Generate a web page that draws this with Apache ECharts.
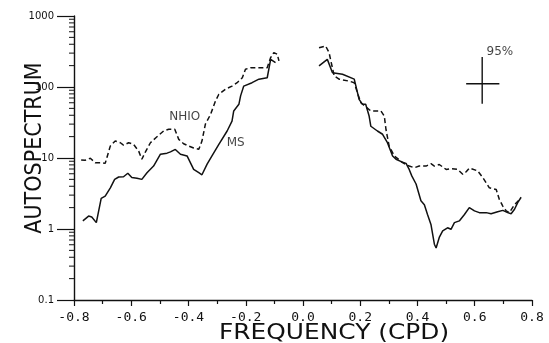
<!DOCTYPE html>
<html>
<head>
<meta charset="utf-8">
<script src="https://cdn.jsdelivr.net/npm/echarts@6/dist/echarts.min.js"></script>
<style>
  html, body { margin: 0; padding: 0; background: #fff; }
  #chart { width: 549px; height: 343px; }
</style>
</head>
<body>
<div id="chart"></div>
<script>
// Autospectrum of the MS record (solid) and the NHIO record (dashed), log scale.
// null marks the gap around zero frequency.
const msFreq = [-0.769, -0.749, -0.738, -0.722, -0.705, -0.691, -0.673, -0.658, -0.644, -0.627,
  -0.612, -0.598, -0.580, -0.563, -0.545, -0.522, -0.498, -0.475, -0.463, -0.446,
  -0.428, -0.405, -0.382, -0.364, -0.353, -0.335, -0.318, -0.294, -0.265, -0.248,
  -0.242, -0.224, -0.218, -0.207, -0.178, -0.154, -0.125, -0.113, -0.096,
  0,
  0.056, 0.085, 0.103, 0.138, 0.179, 0.196, 0.208, 0.219, 0.231, 0.237,
  0.260, 0.278, 0.295, 0.313, 0.325, 0.345, 0.360, 0.371, 0.380, 0.395,
  0.412, 0.424, 0.435, 0.447, 0.453, 0.459, 0.465, 0.476, 0.488, 0.505,
  0.517, 0.529, 0.546, 0.564, 0.581, 0.599, 0.616, 0.640, 0.657, 0.680,
  0.698, 0.715, 0.727, 0.739, 0.750, 0.762];
const msVal = [1.3, 1.52, 1.48, 1.23, 2.7, 2.9, 3.8, 5.0, 5.4, 5.45,
  6.1, 5.3, 5.2, 5.0, 6.2, 7.7, 11.3, 11.7, 12.2, 13.2,
  11.3, 10.7, 6.9, 6.2, 5.8, 8.2, 10.7, 15.6, 24, 33,
  46, 57, 75, 103, 115, 129, 135, 245, 220,
  null,
  198, 245, 159, 151, 129, 67, 57, 57, 39, 28,
  24, 21.6, 16.4, 10.7, 9.6, 8.8, 8.4, 6.9, 5.6, 4.3,
  2.5, 2.2, 1.6, 1.16, 0.84, 0.61, 0.54, 0.76, 0.94, 1.04,
  0.99, 1.23, 1.3, 1.6, 2.0, 1.8, 1.7, 1.7, 1.64, 1.75,
  1.83, 1.7, 1.64, 1.9, 2.35, 2.8];

const nhioFreq = [-0.775, -0.761, -0.743, -0.726, -0.703, -0.691, -0.673, -0.656, -0.638, -0.627,
  -0.609, -0.592, -0.574, -0.563, -0.549, -0.533, -0.514, -0.487, -0.469, -0.448,
  -0.434, -0.417, -0.399, -0.382, -0.364, -0.353, -0.341, -0.323, -0.306, -0.294,
  -0.271, -0.248, -0.230, -0.212, -0.201, -0.183, -0.148, -0.125, -0.113, -0.102,
  -0.090, -0.084,
  0,
  0.056, 0.079, 0.091, 0.109, 0.126, 0.161, 0.179, 0.190, 0.202, 0.237,
  0.272, 0.284, 0.290, 0.301, 0.319, 0.348, 0.371, 0.389, 0.406, 0.430,
  0.447, 0.459, 0.476, 0.500, 0.517, 0.540, 0.558, 0.570, 0.581, 0.610,
  0.628, 0.651, 0.675, 0.686, 0.698, 0.710, 0.721, 0.739, 0.756];
const nhioVal = [9.4, 9.3, 9.9, 8.6, 8.6, 8.4, 14.8, 17.4, 16.4, 15.2,
  16.4, 15.6, 12.5, 9.6, 12.5, 16.4, 19.3, 24, 25.4, 25.4,
  18.3, 15.9, 14.7, 13.8, 13.3, 17.3, 30, 41, 63, 79,
  93, 103, 115, 135, 178, 187, 187, 187, 260, 305,
  290, 233,
  null,
  356, 378, 305, 143, 129, 121, 115, 83, 60, 46,
  46, 39, 25, 14.7, 10.7, 8.6, 7.7, 7.3, 7.7, 7.7,
  8.3, 7.7, 8.1, 6.9, 7.1, 6.9, 5.9, 6.4, 7.2, 6.6,
  5.3, 3.8, 3.6, 2.6, 2.1, 1.8, 1.7, 2.2, 2.6];

// 95% confidence cross
const ciFreq = 0.626;
const ciVal = 111;
const ciValRange = [58, 265];
const ciFreqRange = [0.570, 0.686];

// In-plot annotations
const noteText = ['NHIO', 'MS', '95%'];
const noteFreq = [-0.413, -0.235, 0.688];
const noteVal = [37.8, 16.3, 310];

// Axis tick labels
const xTickLabels = ['-0.8', '-0.6', '-0.4', '-0.2', '0.0', '0.2', '0.4', '0.6', '0.8'];
const yTickLabels = ['0.1', '1', '10', '100', '1000'];
const logDecades = [0.1, 1, 10, 100];
const logMinorSteps = [2, 3, 4, 5, 6, 7, 8, 9];

const toPairs = (xs, ys) => xs.map((x, i) => [x, ys[i] === null ? '-' : ys[i]]);
const minorTickValues = [];
logDecades.forEach(d => logMinorSteps.forEach(s => minorTickValues.push([-0.8, d * s])));

const ink = '#111';
const chart = echarts.init(document.getElementById('chart'), null, { renderer: 'canvas' });

chart.setOption({
  animation: false,
  backgroundColor: '#fff',
  grid: { left: 74, right: 17, top: 16, bottom: 43 },
  xAxis: {
    type: 'value',
    min: -0.8,
    max: 0.8,
    interval: 0.2,
    axisLine: { onZero: false, lineStyle: { color: ink, width: 1.4 } },
    axisTick: { length: 6, lineStyle: { color: ink, width: 1.2 } },
    minorTick: { show: true, splitNumber: 2, length: 4, lineStyle: { color: ink, width: 1.2 } },
    splitLine: { show: false },
    axisLabel: {
      color: ink,
      fontFamily: 'DejaVu Sans Mono',
      fontSize: 13,
      margin: 11,
      formatter: v => xTickLabels[Math.round((v + 0.8) / 0.2)]
    }
  },
  yAxis: {
    type: 'log',
    logBase: 10,
    min: 0.1,
    max: 1000,
    axisLine: { show: true, onZero: false, lineStyle: { color: ink, width: 1.4 } },
    axisTick: { show: true, length: 17, lineStyle: { color: ink, width: 1.2 } },
    minorTick: { show: false },
    splitLine: { show: false },
    axisLabel: {
      color: ink,
      fontFamily: 'DejaVu Sans',
      fontSize: 10,
      margin: 20,
      formatter: v => yTickLabels[Math.round(Math.log10(v)) + 1]
    }
  },
  graphic: [
    {
      type: 'text',
      x: 35,
      y: 148,
      rotation: Math.PI / 2,
      scaleX: 0.9,
      style: {
        text: 'AUTOSPECTRUM',
        font: '23px "DejaVu Sans"',
        fill: ink,
        align: 'center',
        verticalAlign: 'middle',
        textAlign: 'center',
        textVerticalAlign: 'middle'
      }
    },
    {
      type: 'text',
      x: 334,
      y: 333,
      scaleX: 1.13,
      style: {
        text: 'FREQUENCY (CPD)',
        font: '22px "DejaVu Sans"',
        fill: ink,
        align: 'center',
        verticalAlign: 'middle',
        textAlign: 'center',
        textVerticalAlign: 'middle'
      }
    }
  ],
  series: [
    {
      name: 'MS',
      type: 'line',
      data: toPairs(msFreq, msVal),
      showSymbol: false,
      connectNulls: false,
      lineStyle: { color: ink, width: 1.5 },
      z: 3
    },
    {
      name: 'NHIO',
      type: 'line',
      data: toPairs(nhioFreq, nhioVal),
      showSymbol: false,
      connectNulls: false,
      lineStyle: { color: ink, width: 1.5, type: [5, 3] },
      z: 3
    },
    {
      name: '95% vertical',
      type: 'line',
      data: [[ciFreq, ciValRange[0]], [ciFreq, ciValRange[1]]],
      showSymbol: false,
      lineStyle: { color: ink, width: 1.4 }
    },
    {
      name: '95% horizontal',
      type: 'line',
      data: [[ciFreqRange[0], ciVal], [ciFreqRange[1], ciVal]],
      showSymbol: false,
      lineStyle: { color: ink, width: 1.4 }
    },
    {
      name: 'notes',
      type: 'scatter',
      symbolSize: 0,
      silent: true,
      data: noteText.map((t, i) => ({ name: t, value: [noteFreq[i], noteVal[i]] })),
      label: {
        show: true,
        position: 'inside',
        formatter: p => p.name,
        color: ink,
        fontFamily: 'DejaVu Sans',
        fontSize: 12
      }
    },
    {
      name: 'log minor ticks',
      type: 'custom',
      silent: true,
      clip: false,
      data: minorTickValues,
      renderItem: (params, api) => {
        const p = api.coord([api.value(0), api.value(1)]);
        return {
          type: 'line',
          shape: { x1: p[0] - 5, y1: p[1], x2: p[0], y2: p[1] },
          style: { stroke: ink, lineWidth: 1 }
        };
      }
    }
  ]
});
</script>
</body>
</html>
